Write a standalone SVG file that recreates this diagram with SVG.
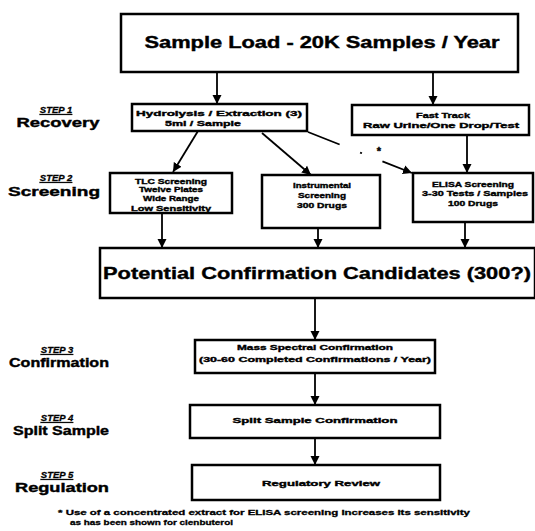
<svg xmlns="http://www.w3.org/2000/svg" width="535" height="531" viewBox="0 0 535 531">
<style>
.box{fill:#fff;stroke:#000;stroke-width:2.5}
.t{font-family:"Liberation Sans",Arial,sans-serif;font-weight:bold;fill:#000;stroke:#000;stroke-width:0.4;text-anchor:middle}
.s{font-size:8px}
.step{font-family:"Liberation Sans",Arial,sans-serif;font-weight:bold;font-style:italic;text-decoration:underline;font-size:9.5px;fill:#000;stroke:#000;stroke-width:0.3;text-anchor:middle}
.lab{font-family:"Liberation Sans",Arial,sans-serif;font-weight:bold;font-size:12.5px;fill:#000;stroke:#000;stroke-width:0.4;text-anchor:middle}
.c{stroke:#000;stroke-width:1.8;fill:none}
.d{stroke:#000;stroke-width:1.8;fill:none;stroke-dasharray:34 22 2 22}
</style>
<defs>
<marker id="ah" viewBox="0 0 10 10" refX="10" refY="5" markerWidth="9" markerHeight="10" markerUnits="userSpaceOnUse" orient="auto">
<path d="M0,0 L10,5 L0,10 Z" fill="#000"/>
</marker>
</defs>

<g id="steps">
<text class="step" x="56" y="113">STEP 1</text>
<text class="lab" x="58" y="127" textLength="83" lengthAdjust="spacingAndGlyphs">Recovery</text>
<text class="step" x="56" y="181">STEP 2</text>
<text class="lab" x="54" y="196" textLength="92" lengthAdjust="spacingAndGlyphs">Screening</text>
<text class="step" x="57" y="353">STEP 3</text>
<text class="lab" x="59" y="367" textLength="100" lengthAdjust="spacingAndGlyphs">Confirmation</text>
<text class="step" x="57" y="421">STEP 4</text>
<text class="lab" x="61" y="435" textLength="96" lengthAdjust="spacingAndGlyphs">Split Sample</text>
<text class="step" x="57" y="478">STEP 5</text>
<text class="lab" x="62" y="492" textLength="94" lengthAdjust="spacingAndGlyphs">Regulation</text>
</g>

<g id="connectors">
<line class="c" x1="217" y1="72" x2="217" y2="104" marker-end="url(#ah)"/>
<line class="c" x1="433" y1="72" x2="433" y2="105" marker-end="url(#ah)"/>
<line class="c" x1="198" y1="131" x2="173" y2="172" marker-end="url(#ah)"/>
<line class="c" x1="262" y1="133" x2="311" y2="175" marker-end="url(#ah)"/>
<line class="d" x1="308" y1="132" x2="412" y2="173" marker-end="url(#ah)"/>
<text class="t" x="379" y="155" style="font-size:11px">*</text>
<line class="c" x1="467" y1="135" x2="467" y2="173" marker-end="url(#ah)"/>
<line class="c" x1="162" y1="213" x2="162" y2="248" marker-end="url(#ah)"/>
<line class="c" x1="318" y1="228" x2="318" y2="248" marker-end="url(#ah)"/>
<line class="c" x1="465" y1="222" x2="465" y2="248" marker-end="url(#ah)"/>
<line class="c" x1="315" y1="298" x2="315" y2="340" marker-end="url(#ah)"/>
<line class="c" x1="315" y1="373" x2="315" y2="405" marker-end="url(#ah)"/>
<line class="c" x1="315" y1="438" x2="315" y2="465" marker-end="url(#ah)"/>
</g>

<g id="sample-load">
<rect class="box" x="121" y="14" width="397" height="58"/>
<text class="t" x="322" y="48" style="font-size:16px" textLength="355" lengthAdjust="spacingAndGlyphs">Sample Load - 20K Samples / Year</text>
</g>

<g id="hydrolysis">
<rect class="box" x="132" y="104" width="175" height="27"/>
<text class="t s" x="219" y="116" textLength="166" lengthAdjust="spacingAndGlyphs">Hydrolysis / Extraction (3)</text>
<text class="t s" x="203" y="126" textLength="76" lengthAdjust="spacingAndGlyphs">5ml / Sample</text>
</g>

<g id="fast-track">
<rect class="box" x="352" y="105" width="177" height="30"/>
<text class="t s" x="443" y="118" textLength="54" lengthAdjust="spacingAndGlyphs">Fast Track</text>
<text class="t s" x="441" y="128" textLength="156" lengthAdjust="spacingAndGlyphs">Raw Urine/One Drop/Test</text>
</g>

<g id="tlc">
<rect class="box" x="110" y="173" width="122" height="40"/>
<text class="t s" x="171" y="184" textLength="72" lengthAdjust="spacingAndGlyphs">TLC Screening</text>
<text class="t s" x="171" y="192" textLength="64" lengthAdjust="spacingAndGlyphs">Twelve Plates</text>
<text class="t s" x="171" y="201" textLength="56" lengthAdjust="spacingAndGlyphs">Wide Range</text>
<text class="t s" x="171" y="211" textLength="80" lengthAdjust="spacingAndGlyphs">Low Sensitivity</text>
</g>

<g id="instrumental">
<rect class="box" x="262" y="175" width="118" height="53"/>
<text class="t s" x="322" y="188" textLength="58" lengthAdjust="spacingAndGlyphs">Instrumental</text>
<text class="t s" x="322" y="198" textLength="48" lengthAdjust="spacingAndGlyphs">Screening</text>
<text class="t s" x="322" y="208" textLength="50" lengthAdjust="spacingAndGlyphs">300 Drugs</text>
</g>

<g id="elisa">
<rect class="box" x="413" y="173" width="120" height="49"/>
<text class="t s" x="473" y="187" textLength="82" lengthAdjust="spacingAndGlyphs">ELISA Screening</text>
<text class="t s" x="475" y="196" textLength="106" lengthAdjust="spacingAndGlyphs">3-30 Tests / Samples</text>
<text class="t s" x="473" y="206" textLength="50" lengthAdjust="spacingAndGlyphs">100 Drugs</text>
</g>

<g id="potential">
<rect class="box" x="100" y="248" width="435" height="50"/>
<text class="t" x="317" y="279" style="font-size:17px" textLength="428" lengthAdjust="spacingAndGlyphs">Potential Confirmation Candidates (300?)</text>
</g>

<g id="mass-spectral">
<rect class="box" x="195" y="340" width="240" height="33"/>
<text class="t s" x="315" y="350" textLength="156" lengthAdjust="spacingAndGlyphs">Mass Spectral Confirmation</text>
<text class="t s" x="315" y="362" textLength="232" lengthAdjust="spacingAndGlyphs">(30-60 Completed Confirmations / Year)</text>
</g>

<g id="split-sample">
<rect class="box" x="190" y="405" width="250" height="33"/>
<text class="t s" x="315" y="423" textLength="165" lengthAdjust="spacingAndGlyphs">Split Sample Confirmation</text>
</g>

<g id="regulatory">
<rect class="box" x="192" y="465" width="248" height="35"/>
<text class="t s" x="321" y="486" textLength="118" lengthAdjust="spacingAndGlyphs">Regulatory Review</text>
</g>

<g id="footnote">
<text class="t" x="58" y="515" style="font-size:7px;text-anchor:start;stroke-width:0.3" textLength="412" lengthAdjust="spacingAndGlyphs">* Use of a concentrated extract for ELISA screening increases its sensitivity</text>
<text class="t" x="70" y="525" style="font-size:7px;text-anchor:start;stroke-width:0.3" textLength="163" lengthAdjust="spacingAndGlyphs">as has been shown for clenbuterol</text>
</g>
</svg>
